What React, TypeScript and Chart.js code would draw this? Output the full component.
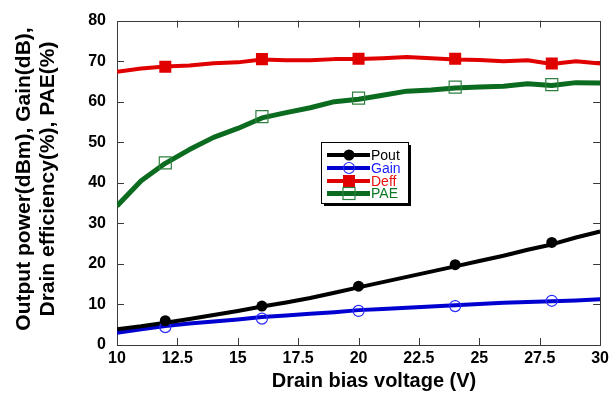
import React, { useEffect, useRef } from "react";
import { Chart, registerables } from "chart.js";

Chart.register(...registerables);

const voltage = [10, 11, 12, 13, 14, 15, 16, 17, 18, 19, 20, 21, 22, 23, 24, 25, 26, 27, 28, 29, 30];
const poutLine = [3.9, 4.6, 5.5, 6.4, 7.4, 8.4, 9.5, 10.5, 11.6, 12.9, 14.2, 15.5, 16.8, 18.1, 19.4, 20.7, 22.0, 23.5, 24.8, 26.5, 28.0];
const gainLine = [3.0, 3.9, 4.7, 5.3, 5.8, 6.3, 6.9, 7.3, 7.7, 8.1, 8.6, 8.9, 9.2, 9.5, 9.8, 10.1, 10.4, 10.6, 10.8, 11.0, 11.3];
const deffLine = [67.4, 68.2, 68.7, 68.9, 69.5, 69.7, 70.4, 70.2, 70.2, 70.5, 70.5, 70.7, 71.0, 70.7, 70.4, 70.3, 70.0, 70.2, 69.3, 70.0, 69.4];
const paeLine = [34.3, 40.5, 44.8, 48.2, 51.2, 53.4, 56.0, 57.3, 58.5, 60.0, 60.6, 61.6, 62.6, 62.9, 63.4, 63.6, 63.8, 64.4, 64.0, 64.7, 64.6];

const markerVoltage = [12, 16, 20, 24, 28];
const poutMarkers = [6.0, 9.6, 14.5, 19.8, 25.3];
const gainMarkers = [4.4, 6.5, 8.4, 9.6, 10.9];
const deffMarkers = [68.6, 70.5, 70.6, 70.6, 69.4];
const paeMarkers = [44.9, 56.3, 60.9, 63.6, 64.2];

const xTicksMin = 10;
const xTicksMax = 30;
const xStep = 2.5;
const yMin = 0;
const yMax = 80;
const yStep = 10;

const seriesNames = ["Pout", "Gain", "Deff", "PAE"];
const xTitle = "Drain bias voltage (V)";
const yTitle = ["Output power(dBm), Gain(dB),", "Drain efficiency(%), PAE(%)"];

const FONT = '"Liberation Sans", Arial, Helvetica, sans-serif';

const colors = {
  pout: "#000000",
  gain: "#0000d0",
  gainMarker: "#2a2aff",
  deff: "#e00000",
  pae: "#0b6b1f",
  paeMarker: "#2f8040",
};

const pts = (xs: number[], ys: number[]) => xs.map((x, i) => ({ x, y: ys[i] }));

function drawMarker(ctx: CanvasRenderingContext2D, kind: string, x: number, y: number) {
  ctx.save();
  if (kind === "pout") {
    ctx.fillStyle = colors.pout;
    ctx.beginPath();
    ctx.arc(x, y, 5.5, 0, Math.PI * 2);
    ctx.fill();
  } else if (kind === "gain") {
    ctx.strokeStyle = colors.gainMarker;
    ctx.lineWidth = 1.2;
    ctx.fillStyle = "rgba(255,255,255,0)";
    ctx.beginPath();
    ctx.arc(x, y, 5.5, 0, Math.PI * 2);
    ctx.stroke();
  } else if (kind === "deff") {
    ctx.fillStyle = colors.deff;
    ctx.fillRect(x - 6, y - 6, 12, 12);
  } else {
    ctx.strokeStyle = colors.paeMarker;
    ctx.lineWidth = 1.2;
    ctx.strokeRect(x - 6, y - 6, 12, 12);
  }
  ctx.restore();
}

const framePlugin = {
  id: "frame",
  beforeDatasetsDraw(chart: any) {
    const { ctx, chartArea } = chart;
    const { left, right, top, bottom } = chartArea;
    const xs = chart.scales.x;
    const ys = chart.scales.y;
    ctx.save();
    ctx.strokeStyle = "#3a3a3a";
    ctx.lineWidth = 1;
    ctx.strokeRect(Math.round(left) + 0.5, Math.round(top) + 0.5, Math.round(right - left), Math.round(bottom - top));
    ctx.beginPath();
    const tl = 7;
    for (let v = xTicksMin + xStep; v < xTicksMax; v += xStep) {
      const px = Math.round(xs.getPixelForValue(v)) + 0.5;
      ctx.moveTo(px, bottom);
      ctx.lineTo(px, bottom - tl);
      ctx.moveTo(px, top);
      ctx.lineTo(px, top + tl);
    }
    for (let v = yMin + yStep; v < yMax; v += yStep) {
      const py = Math.round(ys.getPixelForValue(v)) + 0.5;
      ctx.moveTo(left, py);
      ctx.lineTo(left + tl, py);
      ctx.moveTo(right, py);
      ctx.lineTo(right - tl, py);
    }
    ctx.stroke();
    ctx.restore();
  },
  afterDraw(chart: any) {
    const { ctx } = chart;
    ctx.save();
    // axis titles
    ctx.fillStyle = "#000";
    ctx.font = `bold 20px ${FONT}`;
    ctx.textAlign = "center";
    ctx.textBaseline = "alphabetic";
    ctx.fillText(xTitle, 374, 387);
    ctx.font = `bold 21px ${FONT}`;
    const yb = [29.5, 53.5];
    yTitle.forEach((line, i) => {
      ctx.save();
      ctx.translate(yb[i], 179);
      ctx.rotate(-Math.PI / 2);
      ctx.fillText(line, 0, 0);
      ctx.restore();
    });

    // legend
    const bx = 321, by = 142, bw = 87, bh = 61;
    ctx.fillStyle = "#000";
    ctx.fillRect(bx + 3, by + 3, bw, bh);
    ctx.fillStyle = "#fff";
    ctx.fillRect(bx, by, bw, bh);
    ctx.strokeStyle = "#000";
    ctx.lineWidth = 1;
    ctx.strokeRect(bx + 0.5, by + 0.5, bw, bh);
    const rows = [155, 168, 181, 193.5];
    const kinds = ["pout", "gain", "deff", "pae"];
    const lineColors = [colors.pout, colors.gain, colors.deff, colors.pae];
    const textColors = ["#000000", "#1a1aff", "#ee1111", "#0b7a22"];
    ctx.font = `14px ${FONT}`;
    ctx.textAlign = "left";
    ctx.textBaseline = "middle";
    rows.forEach((ry, i) => {
      ctx.strokeStyle = lineColors[i];
      ctx.lineWidth = i === 3 ? 5 : 4;
      ctx.beginPath();
      ctx.moveTo(327, ry);
      ctx.lineTo(370, ry);
      ctx.stroke();
      drawMarker(ctx, kinds[i], 349, ry);
      ctx.fillStyle = textColors[i];
      ctx.fillText(seriesNames[i], 371, ry + 1);
    });
    ctx.restore();
  },
};

export default function App() {
  const ref = useRef<HTMLCanvasElement | null>(null);
  useEffect(() => {
    if (!ref.current) return;
    const markerDs = (label: string, ys: number[], style: any) => ({
      label,
      data: pts(markerVoltage, ys),
      showLine: false,
      pointRadius: style.radius,
      pointStyle: style.pointStyle,
      pointBackgroundColor: style.bg,
      pointBorderColor: style.border,
      pointBorderWidth: style.bw,
      borderColor: style.border,
      backgroundColor: style.bg,
    });
    const lineDs = (label: string, ys: number[], color: string, width: number) => ({
      label,
      data: pts(voltage, ys),
      borderColor: color,
      backgroundColor: color,
      borderWidth: width,
      pointRadius: 0,
      tension: 0,
      fill: false,
      borderJoinStyle: "round",
      borderCapStyle: "butt",
    });
    const chart = new Chart(ref.current, {
      type: "line",
      data: {
        datasets: [
          markerDs("Pout markers", poutMarkers, { radius: 5.5, pointStyle: "circle", bg: colors.pout, border: colors.pout, bw: 0 }),
          markerDs("Gain markers", gainMarkers, { radius: 5.5, pointStyle: "circle", bg: "rgba(0,0,0,0)", border: colors.gainMarker, bw: 1.2 }),
          markerDs("Deff markers", deffMarkers, { radius: 8.5, pointStyle: "rect", bg: colors.deff, border: colors.deff, bw: 0 }),
          markerDs("PAE markers", paeMarkers, { radius: 8.5, pointStyle: "rect", bg: "rgba(0,0,0,0)", border: colors.paeMarker, bw: 1.2 }),
          lineDs(seriesNames[0], poutLine, colors.pout, 4),
          lineDs(seriesNames[1], gainLine, colors.gain, 4),
          lineDs(seriesNames[2], deffLine, colors.deff, 4),
          lineDs(seriesNames[3], paeLine, colors.pae, 5),
        ] as any,
      },
      options: {
        animation: false,
        responsive: false,
        maintainAspectRatio: false,
        devicePixelRatio: 1,
        layout: { padding: { left: 0, right: 10, top: 19, bottom: 0 } },
        plugins: { legend: { display: false }, tooltip: { enabled: false } },
        scales: {
          x: {
            type: "linear",
            min: xTicksMin,
            max: xTicksMax,
            grid: { display: false, drawTicks: false },
            border: { display: false },
            ticks: {
              stepSize: xStep,
              color: "#000",
              padding: 4,
              maxRotation: 0,
              autoSkip: false,
              font: { family: FONT, size: 16, weight: "bold" },
            },
            afterFit: (s: any) => {
              s.height = 48;
            },
          },
          y: {
            type: "linear",
            min: yMin,
            max: yMax,
            grid: { display: false, drawTicks: false },
            border: { display: false },
            ticks: {
              stepSize: yStep,
              color: "#000",
              padding: 11,
              font: { family: FONT, size: 16, weight: "bold" },
            },
            afterFit: (s: any) => {
              s.width = 117;
            },
          },
        },
      },
      plugins: [framePlugin],
    });
    return () => chart.destroy();
  }, []);
  return (
    <div style={{ position: "fixed", left: 0, top: 0, width: 613, height: 393, background: "#fff" }}>
      <canvas ref={ref} width={613} height={393} style={{ width: 613, height: 393, display: "block" }} />
    </div>
  );
}
